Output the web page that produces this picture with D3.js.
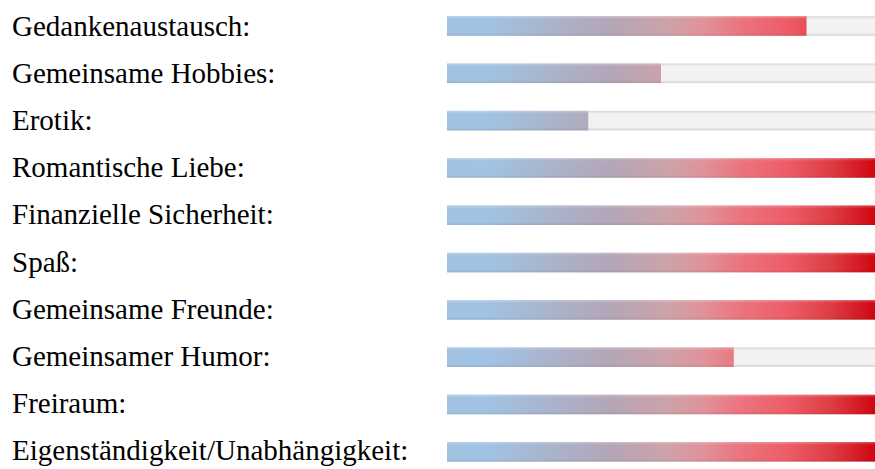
<!DOCTYPE html>
<html>
<head>
<meta charset="utf-8">
<script src="https://cdn.jsdelivr.net/npm/d3@7"></script>
<style>
  body { margin: 0; background: #fff; }
  svg { display: block; }
  .label { font-family: "Liberation Serif", "Times New Roman", serif; font-size: 29px; fill: #000; }
</style>
</head>
<body>
<div id="chart"></div>
<script>
// categories and values (percent of full bar)
var categories = ['Gedankenaustausch:', 'Gemeinsame Hobbies:', 'Erotik:', 'Romantische Liebe:',
  'Finanzielle Sicherheit:', 'Spaß:', 'Gemeinsame Freunde:', 'Gemeinsamer Humor:',
  'Freiraum:', 'Eigenständigkeit/Unabhängigkeit:'];
var values = [84, 50, 33, 100, 100, 100, 100, 67, 100, 100];

var W = 875, H = 469;
var barH = 19.5;

var svg = d3.select('#chart').append('svg')
  .attr('width', W)
  .attr('height', H);

var x = d3.scaleLinear().domain([0, 100]).range([447, 875]);
var y = d3.scalePoint().domain(categories).range([26, 451.8]);
// label baselines run on a slightly tighter step than the bars
var yText = d3.scalePoint().domain(categories).range([36, 460]);

var defs = svg.append('defs');

// colour ramp lies over the whole track, so partial bars show only its left part
var grad = defs.append('linearGradient')
  .attr('id', 'barGrad')
  .attr('gradientUnits', 'userSpaceOnUse')
  .attr('x1', x(0)).attr('x2', x(100))
  .attr('y1', 0).attr('y2', 0);
[[0, '#a2c2e0'], [0.08, '#a0c4e6'], [0.22, '#a8b6cf'], [0.38, '#b4a6b8'],
 [0.52, '#cea2a8'], [0.6, '#e0929a'], [0.68, '#ea7680'], [0.8, '#ec5c66'],
 [0.9, '#dc3c42'], [1, '#d00612']].forEach(function(s){
  grad.append('stop').attr('offset', s[0]).attr('stop-color', s[1]);
});

// soft edge shading on top of the bars
var shade = defs.append('linearGradient')
  .attr('id', 'shade').attr('x1', 0).attr('x2', 0).attr('y1', 0).attr('y2', 1);
shade.append('stop').attr('offset', 0).attr('stop-color', '#fff').attr('stop-opacity', 0.25);
shade.append('stop').attr('offset', 0.15).attr('stop-color', '#fff').attr('stop-opacity', 0);
shade.append('stop').attr('offset', 0.85).attr('stop-color', '#000').attr('stop-opacity', 0);
shade.append('stop').attr('offset', 1).attr('stop-color', '#000').attr('stop-opacity', 0.08);

var track = defs.append('linearGradient')
  .attr('id', 'trackGrad').attr('x1', 0).attr('x2', 0).attr('y1', 0).attr('y2', 1);
track.append('stop').attr('offset', 0).attr('stop-color', '#d6d6d6');
track.append('stop').attr('offset', 0.15).attr('stop-color', '#f3f3f3');
track.append('stop').attr('offset', 0.85).attr('stop-color', '#f1f1f1');
track.append('stop').attr('offset', 1).attr('stop-color', '#d2d2d2');

svg.selectAll('.label')
  .data(categories)
  .enter().append('text')
  .attr('class', 'label')
  .attr('x', 12)
  .attr('y', function(d){ return yText(d); })
  .text(function(d){ return d; });

var rows = svg.selectAll('.row')
  .data(categories)
  .enter().append('g')
  .attr('class', 'row')
  .attr('transform', function(d){ return 'translate(0,' + y(d) + ')'; });

rows.append('rect')
  .attr('x', x(0))
  .attr('y', -barH / 2)
  .attr('width', x(100) - x(0))
  .attr('height', barH)
  .attr('fill', 'url(#trackGrad)');

rows.append('rect')
  .attr('x', x(0))
  .attr('y', -barH / 2)
  .attr('width', function(d, i){ return x(values[i]) - x(0); })
  .attr('height', barH)
  .attr('fill', 'url(#barGrad)');

rows.append('rect')
  .attr('x', x(0))
  .attr('y', -barH / 2)
  .attr('width', function(d, i){ return x(values[i]) - x(0); })
  .attr('height', barH)
  .attr('fill', 'url(#shade)');
</script>
</body>
</html>
